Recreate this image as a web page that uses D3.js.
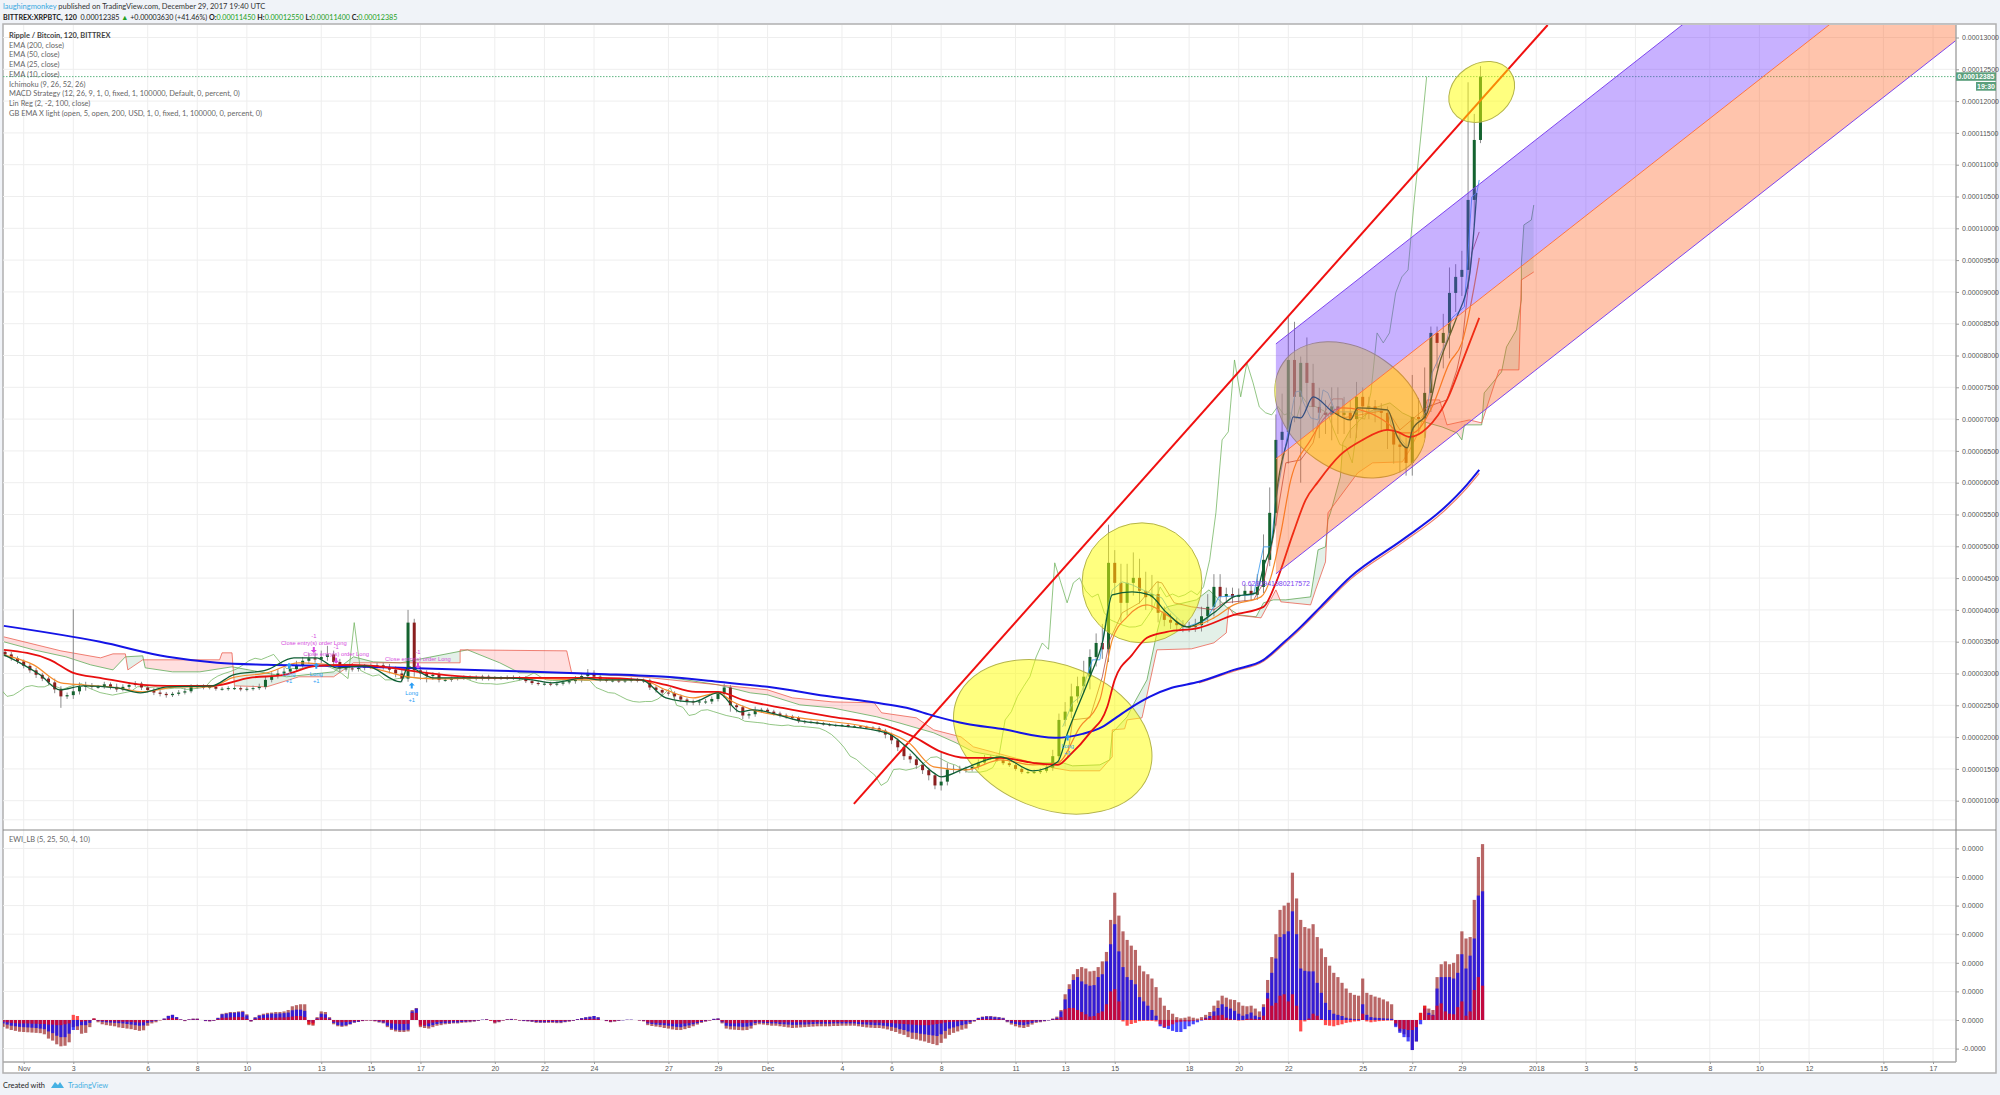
<!DOCTYPE html>
<html><head><meta charset="utf-8">
<script src="https://cdnjs.cloudflare.com/ajax/libs/d3/7.8.5/d3.min.js"></script>
<style>html,body{margin:0;padding:0;background:#f0f3f8}svg{display:block}text{font-family:"Liberation Sans",Arial,sans-serif}.ui{font-family:Lato,"Open Sans",sans-serif}</style>
</head><body><svg id="c" width="2000" height="1095"></svg>
<script>
// ---------- axis data ----------
const priceTicks=[1000,1500,2000,2500,3000,3500,4000,4500,5000,5500,6000,6500,7000,7500,8000,8500,9000,9500,10000,10500,11000,11500,12000,12500,13000];
const timeTickDays=[0,2,5,7,9,12,14,16,19,21,23,26,28,30,33,35,37,40,42,44,47,49,51,54,56,58,61,63,65,68,70,72,75,77];
const timeTickLabels=["Nov","3","6","8","10","13","15","17","20","22","24","27","29","Dec","4","6","8","11","13","15","18","20","22","25","27","29","2018","3","5","8","10","12","15","17"];
const ewiTicks=[-100,0,100,200,300,400,500,600,700];
const legendLabels=["EMA (200, close)","EMA (50, close)","EMA (25, close)","EMA (10, close)","Ichimoku (9, 26, 52, 26)","MACD Strategy (12, 26, 9, 1, 0, fixed, 1, 100000, Default, 0, percent, 0)","Lin Reg (2, -2, 100, close)","GB EMA X light (open, 5, open, 200, USD, 1, 0, fixed, 1, 100000, 0, percent, 0)"];
// ---------- candles: every 6 hours from day -0.75 (day 0 = Nov 1), prices in 1e-8 BTC ----------
const candleClose=[3300,3240,3190,
3120,3050,2980,2920,2860,2750,2640,2660,2720,2790,2810,2790,2790,2830,2790,2750,2790,2820,2840,2780,
2740,2700,2680,2660,2680,2700,2720,2790,2800,2780,2790,2760,2760,2770,2770,2750,2760,2770,2790,2900,
2960,3000,3030,3070,3130,3200,3240,3220,3260,3300,3180,3080,3080,3070,3090,3110,3120,3130,3100,3060,
3000,2920,3800,3050,3000,2960,2980,2900,2900,2920,2930,2940,2930,2920,2950,2920,2930,2930,2940,2930,
2920,2880,2850,2840,2840,2830,2840,2860,2880,2900,2960,3010,2950,2900,2890,2890,2880,2890,2900,2890,
2890,2780,2740,2700,2690,2640,2590,2560,2550,2560,2560,2600,2680,2780,2500,2470,2340,2360,2420,2430,
2400,2370,2340,2320,2300,2250,2240,2230,2220,2200,2190,2180,2190,2170,2170,2160,2150,2140,2100,2040,
1950,1840,1700,1650,1560,1480,1400,1240,1300,1490,1500,1480,1500,1530,1600,1680,1690,1640,1590,1560,
1500,1450,1450,1450,1470,1520,1700,2270,2400,2640,2800,2950,3260,3480,3380,4740,4425,4111,4425,4504,
4300,4200,4250,3954,3843,3800,3760,3730,3733,3760,3900,4048,4362,4205,4250,4205,4237,4300,4237,4362,
4787,5526,6673,6800,7930,7350,7884,7569,7192,7100,7066,7200,7066,7100,7000,7350,7200,7200,7150,7098,
6830,6600,6563,6311,7034,7000,7412,8355,8198,8355,8984,9236,9346,10446,11389,12385];
const candleWickUp=[30,40,30,
30,30,40,30,30,60,50,40,1290,70,60,40,30,40,30,50,40,40,40,30,
30,30,40,30,30,40,50,40,30,30,30,40,30,30,30,30,30,40,50,60,
60,70,60,70,70,60,80,90,100,135,60,50,40,50,50,40,40,40,40,50,
50,60,200,60,60,50,40,40,30,30,30,30,30,40,30,30,30,30,30,30,
30,40,30,30,30,30,30,30,40,60,50,60,40,30,30,30,30,30,40,30,
30,30,30,30,30,30,30,30,30,30,40,40,40,60,40,30,30,30,60,30,
30,30,30,30,30,30,20,20,20,20,20,20,20,20,20,20,20,20,30,30,
30,30,40,40,40,40,40,30,450,100,60,50,40,50,50,40,30,30,30,30,
30,30,30,40,40,60,100,100,150,200,150,250,120,150,300,600,200,300,300,400,
300,300,300,200,100,100,80,80,80,100,150,200,200,200,100,100,100,100,100,200,
400,400,400,600,680,600,100,400,300,300,200,300,300,250,200,235,150,150,100,100,
100,100,200,150,660,300,400,100,100,300,400,200,300,1850,410,165];
const candleWickDn=[40,40,40,
40,40,50,40,40,60,180,40,60,50,60,40,30,30,40,40,30,40,30,40,
40,40,40,40,30,30,30,30,30,30,30,30,30,30,30,30,30,30,30,40,
40,40,40,40,40,40,50,50,60,60,80,60,50,40,40,40,40,40,40,60,
60,60,50,100,100,100,60,40,30,30,30,30,30,30,30,30,30,30,30,30,
30,30,30,30,30,30,30,30,30,40,40,50,50,30,30,30,30,30,30,30,
40,40,40,40,40,40,40,60,50,50,40,40,40,60,100,80,60,50,40,40,
30,30,30,30,30,30,30,20,20,20,20,20,20,20,20,20,20,20,30,60,
60,60,60,60,60,60,80,60,80,60,60,50,40,40,40,40,40,30,30,30,
30,30,30,30,30,30,50,50,100,100,100,100,200,150,150,200,200,300,200,200,
200,200,200,150,100,100,100,80,80,80,100,100,150,150,100,100,100,100,100,80,
100,100,200,300,500,400,1350,400,400,400,300,400,300,300,300,300,200,200,200,300,
300,300,400,200,200,200,300,300,400,400,400,300,300,300,400,50];
// ---------- moving averages ----------
const ema200Days=[-.8,3.08,5.8,7.8,9.8,12.5,15.2,19.2,23.2,25.9,28,30,32.6,34.4,35.6,36.7,38,39.4,41.6,42.7,43.5,44.1,44.7,45.4,46.3,47.4,48.8,50,50.8,51.5,52.3,53.5,55.6,57.2,58.2,58.7];
const ema200Vals=[3749,3498,3262,3168,3136,3120,3089,3042,2994,2947,2869,2790,2633,2539,2460,2334,2209,2130,1989,2051,2161,2319,2476,2633,2775,2869,3057,3214,3482,3733,4048,4519,5101,5573,5966,6201];
const gbEmaDays=[47.4,48.8,50,50.8,51.5,52.3,53.5,55.6,57.2,58.2,58.7];
const gbEmaVals=[2852,3038,3192,3455,3704,4015,4480,5058,5525,5915,6145];
const ema50Days=[-.8,1.06,2,3.08,4.8,5.8,7.6,9.1,10.5,11.8,13.2,14.5,15.9,17.9,19.2,23.2,24.9,25.9,27.1,28,29,30.6,32.6,34.8,35.9,37,38,39.4,40.7,41.7,42.2,43,43.7,44,44.7,45.3,46.1,47.4,48.8,50,50.5,51.2,51.7,52.2,53.1,54,55,55.4,55.9,56.6,57.4,58,58.7];
const ema50Vals=[3372,3215,3010,2932,2822,2806,2806,2932,2979,3120,3136,3105,3026,2947,2932,2932,2900,2822,2712,2712,2586,2460,2319,2177,2004,1768,1674,1674,1596,1564,1721,2067,2476,2900,3293,3561,3655,3718,3922,4048,4425,5211,5730,6013,6437,6673,6830,6799,6720,6862,7302,7884,8591];
const ema25Days=[-.8,.4,1.5,2.4,3.8,4.8,6.2,7.6,8.4,9.8,11.1,12.5,13.8,15.5,16.5,19.2,23.2,24.9,25.9,27,28,28.6,29.4,31.3,34,34.8,35.7,36.7,38,39.4,40.7,41.7,42.6,43.4,43.9,44.5,45.3,46.1,47,48,48.8,49.9,50.3,50.7,51.1,51.9,52.5,53.2,53.9,55,55.5,56,56.8,57.5,58,58.7];
const ema25Vals=[3293,3136,2853,2822,2775,2712,2790,2790,2932,3010,3168,3136,3105,2947,2916,2932,2900,2900,2743,2617,2696,2555,2429,2303,2162,2083,1910,1533,1485,1643,1564,1596,2162,2586,3529,3891,4079,3922,3733,3875,4079,4205,4520,5211,6044,6673,7035,7176,7145,6940,6783,6783,7192,7884,8198,9534];
const ema10Days=[-.8,-.15,.66,1.46,2.4,3.76,4.7,5.8,7.6,8.45,9.8,10.9,11.8,12.6,13.8,15.2,15.5,16.5,19.2,20.5,21.3,22.6,23.2,24.9,25.9,27,28,28.9,29.4,31.3,32.6,34.8,35.6,36.7,37,38,39.4,40.7,41.7,42.1,43,43.5,43.9,44.7,45.4,46.1,46.9,48,48.8,49.7,50,50.4,50.5,51,51.2,51.5,52,52.8,53.5,53.8,55,55.4,55.8,56,56.6,57.1,57.6,57.8,58.3,58.6];
const ema10Vals=[3293,3168,2979,2743,2806,2775,2696,2790,2806,2979,3057,3246,3246,3089,3120,2869,3105,2932,2932,2900,2853,2932,2900,2900,2617,2555,2696,2397,2429,2256,2193,2067,1847,1438,1375,1517,1690,1470,1611,2067,2948,3482,4236,4284,4236,3954,3733,3954,4205,4268,4677,5211,5730,6720,7035,7019,7349,7113,6987,7176,7145,6720,6547,6830,7098,7884,8403,8607,9236,10556];
// ---------- ichimoku ----------
const tenkanDays=[41.9,42.3,42.6,43.1,43.4,43.7,43.9,44.3,44.7,45.3,45.9,46.2,46.9,47.7,48.2,49.6,50,50.3,50.5,51.2,51.3,51.5,51.6,51.9,52.2,52.4,52.6,52.9,53.9,55,55.2,55.8,56,56.6,56.8,57.4,57.6,58.1,58.4,58.6,58.7];
const tenkanVals=[2162,2539,2633,3215,3215,3999,4315,4441,4394,4284,4189,3999,3733,3843,4205,4237,4991,4991,5730,7255,7428,7443,7271,7019,6987,7459,7412,7113,7113,7145,6830,6563,6830,7145,7726,8245,8591,8764,10493,10556,10760];
const kijunDays=[42.1,42.3,43,43.5,43.8,44.3,45,45.7,45.9,46.4,47.1,48,48.4,49.6,50,50.3,50.5,50.9,51.5,52,52.2,52.8,53.2,53.2,55,55.5,56.6,57.4,57.8,58,58.4,58.7];
const kijunVals=[1690,2272,2303,2948,3529,3954,4111,4441,4425,4111,4048,4001,4111,4158,4425,4944,5369,6312,6359,6626,6940,7318,7318,7019,7145,6830,7192,7302,7774,8135,9613,9943];
const spanBDays=[-.8,1.5,3.1,3.6,4.1,4.2,4.8,7.9,8,8.4,8.5,9.8,11.1,12.5,13.3,17.6,17.6,21.9,22.1,24.9,28,30,31,32.6,34.3,34.6,36,36.7,37.8,38.3,39.2,40.7,41.5,42.2,43.4,43.9,43.9,44.4,44.5,45.1,45.7,47.1,48,48.5,48.6,48.8,49.9,50.5,50.7,51.9,52.1,52.5,52.6,53.8,54.4,55.6,55.9,56.3,56.6,57.1,57.4,58.3,58.8,59.5,60.3,60.4,60.9];
const spanBVals=[3576,3356,3246,3309,3309,3057,3215,3215,3325,3325,2806,2790,2948,2948,3168,3168,3372,3356,3010,2948,2822,2743,2617,2554,2539,2382,2303,2114,2004,1847,1753,1596,1517,1470,1470,1690,2114,2130,2271,2303,3372,3388,3482,3639,4048,3922,3875,4315,4127,4079,4315,4755,5526,6154,6312,6327,6516,6830,7302,7302,6909,6987,6940,7774,7774,9188,9314];
const spanADays=[-.8,.4,1.7,2.7,3.6,4.1,4.8,4.9,6,7.1,8.4,10.6,12.5,13.3,14.1,15.2,17.9,18.4,19.2,20,21.9,23.2,25.9,28,29.3,30,31.3,32.6,34.4,35.3,36.7,37.6,38.3,39.4,40.7,41.9,42.3,43.4,43.8,43.9,44.5,44.7,45.3,45.7,45.9,46.1,47.3,47.8,48.5,49,49.7,50,50.4,50.9,51.9,52.2,52.5,52.6,52.7,53.1,53.2,53.5,54,54.6,55.1,55.6,56.2,57.2,57.8,58,58.1,58.8,58.9,59.6,59.8,60.2,60.4,60.4,60.5,60.8,60.9];
const spanAVals=[3498,3372,3262,3136,3057,3262,3278,3089,3026,3026,3105,2948,3026,3262,3183,3168,3372,3293,3168,3010,3010,2979,2948,2822,2696,2665,2507,2460,2319,2224,2067,1910,1768,1690,1596,1596,1548,1564,1643,2067,2319,2476,2900,3639,3954,4048,4158,4315,4048,3922,3891,4111,4158,4158,4205,4944,4991,5416,5526,6091,6626,6830,7035,7192,7255,7098,6987,6877,6783,6673,6909,6909,7412,7742,8135,8403,8874,9456,10053,10131,10367];
const chikouShiftDays=2.17;
// ---------- linear regression channel and drawn annotations ----------
const channelDays=[50.5,78];
const channelUpper=[8182,16600];
const channelMiddle=[6374,14785];
const channelLower=[4567,12977];
const trendDays=[33.48,61.46];
const trendVals=[951,13197];
const ellipseDays=[41.5,45.1,53.5,58.8];
const ellipseVals=[2004,4425,7145,12144];
const lastPrice=12385;
const orderLabels=["Close entry(s) order Long","Close entry(s) order Long","Close entry(s) order Long"];
const closeDays=[11.7,12.6,15.9];
const closeVals=[3355,3185,3105];
const longDays=[10.7,11.8,15.65,42.1];
const longVals=[3170,3170,2860,2040];
// ---------- EWI oscillator: every 4 hours from day -0.83 ----------
const ewiTotal=[-24,-30,-35,-38,-41,
-42,-43,-44,-45,-46,-50,-65,-72,-85,-92,-90,-78,-25,-35,-48,-45,-25,6,-8,-15,-18,-20,-22,-26,-28,-30,-32,-35,-38,-36,
-20,-12,-8,-2,5,15,18,10,2,-4,2,5,5,0,-4,-5,-3,8,22,25,28,28,30,32,20,-6,10,18,22,25,26,28,28,30,35,48,
52,55,55,-18,-20,10,30,28,10,-15,-22,-24,-22,-16,-10,-7,-4,-2,-2,-5,-9,-12,-25,-35,-40,-42,-42,-40,35,42,
-25,-28,-30,-25,-20,-18,-15,-14,-12,-12,-10,-9,-8,-6,-3,1,3,-2,-12,-8,-2,3,4,2,-2,-4,-5,-7,-10,-10,-10,-10,-10,-11,-11,-8,
-6,-3,3,7,10,12,14,10,0,-4,-8,-6,-3,-1,1,1,0,-2,-5,-18,-21,-23,-25,-28,-30,-33,-35,-35,-32,-28,-22,-16,-10,-6,-2,4,
6,-12,-30,-33,-34,-35,-36,-35,-30,-18,-15,-16,-18,-20,-20,-22,-24,-26,-28,-27,-26,-25,-24,-23,-22,-22,-22,-22,-21,-21,-20,-20,-20,-20,-22,-24,
-26,-27,-28,-28,-30,-33,-38,-42,-48,-52,-60,-66,-68,-72,-75,-80,-84,-88,-80,-65,-52,-45,-40,-34,-30,-14,-6,8,12,14,14,12,10,8,-8,-16,-22,-26,-28,-24,-16,-10,
-8,-5,-2,5,12,35,90,125,160,178,185,180,170,172,185,205,238,350,445,365,310,280,260,245,190,170,160,145,115,78,50,35,22,10,6,8,12,8,5,10,18,28,
50,68,85,78,72,70,62,50,48,50,40,30,55,140,220,300,385,400,410,515,425,350,325,320,335,290,250,220,190,165,150,130,110,95,88,85,145,95,88,82,78,72,
65,55,-20,-40,-50,-60,-105,-75,25,50,40,35,150,195,205,195,200,230,310,285,290,420,570,615];
const ewiBlue=[-12,-16,-20,-22,-24,
-25,-26,-27,-28,-30,-32,-40,-46,-55,-60,-60,-48,-35,-22,-18,-18,-10,4,-3,-6,-8,-9,-10,-11,-12,-14,-16,-18,-20,-19,
-10,-6,-3,0,5,14,18,10,2,-2,2,4,4,0,-3,-4,-2,7,20,22,25,25,27,28,16,-4,8,15,18,20,22,22,23,24,26,34,
36,36,32,-6,-10,6,22,20,6,-10,-18,-20,-18,-14,-8,-6,-3,-1,-1,-3,-6,-9,-20,-30,-34,-36,-36,-34,30,40,
-16,-20,-22,-18,-14,-12,-11,-10,-9,-9,-7,-6,-5,-4,-2,1,2,-1,-8,-5,-1,2,3,1,-1,-3,-4,-5,-7,-8,-8,-7,-7,-8,-8,-6,
-4,-2,3,6,9,11,14,9,0,-3,-6,-4,-2,-1,1,1,0,-1,-3,-12,-14,-16,-17,-18,-20,-22,-24,-25,-22,-19,-15,-11,-7,-4,-1,4,
5,-8,-20,-22,-22,-23,-24,-23,-20,-11,-9,-10,-11,-12,-12,-14,-15,-16,-17,-17,-16,-16,-15,-14,-13,-13,-13,-13,-12,-12,-12,-12,-12,-12,-14,-15,
-16,-17,-18,-18,-20,-22,-24,-27,-32,-35,-40,-44,-45,-48,-50,-52,-54,-56,-50,-38,-30,-26,-22,-18,-15,-8,-3,7,10,12,12,10,9,6,-5,-10,-14,-17,-18,-15,-10,-6,
-5,-3,-1,4,8,30,72,108,140,150,135,125,120,122,150,160,205,265,335,240,185,150,140,125,80,65,50,35,15,-22,-28,-32,-38,-42,-42,-32,-22,-15,-8,-2,8,14,
30,42,55,46,40,32,22,15,20,26,15,10,45,95,165,215,290,300,310,380,300,180,172,170,170,130,95,60,35,22,18,14,8,5,3,3,55,18,10,8,7,6,
5,4,-25,-45,-60,-75,-105,-75,-15,40,25,18,110,150,150,150,145,165,230,180,225,285,435,450];
const ewiRed=[-6,-8,-10,-11,-12,
-12,-12,-13,-13,-14,-14,-16,-16,-18,-18,-15,-12,18,14,-6,-4,-2,5,-2,-3,-4,-4,-5,-5,-6,-6,-7,-8,-9,-8,
-4,-3,-1,0,2,5,7,4,1,-1,1,2,2,0,-1,-2,-1,3,8,8,9,10,10,10,4,-2,3,6,7,8,8,8,9,9,10,12,
14,14,10,-14,-16,4,10,8,3,-6,-8,-8,-7,-6,-4,-3,-2,-1,-1,-2,-3,-5,-9,-12,-13,-14,-14,-13,25,25,
-20,-18,-12,-9,-7,-6,-5,-5,-4,-4,-3,-3,-3,-2,-1,0,1,-3,-8,-4,-1,1,1,1,-1,-1,-2,-2,-4,-4,-4,-4,-4,-4,-4,-3,
-2,-1,1,2,3,4,4,3,0,-2,-5,-3,-1,0,0,0,0,-1,-2,-8,-9,-10,-10,-11,-12,-13,-13,-13,-12,-11,-9,-7,-4,-2,-1,1,
2,-5,-10,-12,-12,-11,-11,-10,-8,-6,-6,-6,-7,-7,-7,-8,-8,-8,-8,-8,-8,-8,-8,-7,-7,-7,-7,-7,-7,-7,-7,-7,-7,-7,-7,-8,
-8,-8,-9,-9,-10,-10,-11,-12,-13,-14,-15,-16,-17,-18,-18,-18,-16,-14,-12,-9,-7,-6,-5,-4,-3,-2,-1,3,4,4,4,3,3,2,-2,-4,-6,-7,-8,-6,-4,-2,
-2,-1,0,2,4,10,38,42,42,35,28,20,12,14,24,30,55,100,108,65,-5,-20,-14,-10,-4,-3,-3,-3,-5,-15,-25,-20,-15,-8,-6,-5,-5,-3,-1,2,5,6,
15,16,18,8,4,1,-2,-1,4,5,3,3,15,75,50,60,85,90,65,90,50,-40,-5,5,22,15,3,-18,-20,-22,-18,-15,-10,-8,-5,-4,22,-5,-8,-6,-4,-3,
-2,-2,-12,-30,-32,-35,-35,-25,25,50,18,16,50,58,30,22,20,45,65,15,30,105,150,120];

// ---------- layout ----------
const L=3,R=1956,T=25,B=830,AX=1062,OUT=1996,BOT=1073;
const svg=d3.select("#c");
const x=d3.scaleLinear().domain([0,77]).range([23.7,1933]);
const y=d3.scaleLinear().domain([1000,13000]).range([800.7,37.5]);
const ey=d3.scaleLinear().domain([0,100]).range([1020,991.4]);
const defs=svg.append("defs");
defs.append("clipPath").attr("id","pane").append("rect").attr("x",L).attr("y",T).attr("width",R-L).attr("height",B-T);
defs.append("clipPath").attr("id","pane2").append("rect").attr("x",L).attr("y",B).attr("width",R-L).attr("height",AX-B);
svg.append("rect").attr("x",L).attr("y",T-1).attr("width",OUT-L).attr("height",BOT-T+1).attr("fill","#fff").attr("stroke","#b0b0b0").attr("stroke-width",1.5);

// grid
const grid=svg.append("g").attr("stroke","#eeeeee").attr("stroke-width",1);
grid.selectAll(".v").data(timeTickDays).join("line").attr("x1",d=>x(d)).attr("x2",d=>x(d)).attr("y1",T).attr("y2",AX);
grid.selectAll(".h").data(priceTicks).join("line").attr("x1",L).attr("x2",R).attr("y1",d=>y(d)).attr("y2",d=>y(d));
grid.selectAll(".e").data(ewiTicks).join("line").attr("x1",L).attr("x2",R).attr("y1",d=>ey(d)).attr("y2",d=>ey(d));

const pane=svg.append("g").attr("clip-path","url(#pane)");
const lineOf=(days,vals,curve)=>d3.line().x(i=>x(days[i])).y(i=>y(vals[i])).curve(curve||d3.curveLinear)(d3.range(days.length));

// ichimoku cloud
const loop=lineOf(spanADays,spanAVals)+"L"+spanBDays.map((d,i)=>[x(d),y(spanBVals[i])]).reverse().map(p=>p.join(",")).join("L")+"Z";
const aPts=spanADays.map((d,i)=>[x(d),y(spanAVals[i])]);
const aEnds=[aPts[0][0],aPts[aPts.length-1][0]];
defs.append("clipPath").attr("id","aboveA").append("path").attr("d","M"+aPts.map(p=>p.join(",")).join("L")+`L${aEnds[1]},0L${aEnds[0]},0Z`);
defs.append("clipPath").attr("id","belowA").append("path").attr("d","M"+aPts.map(p=>p.join(",")).join("L")+`L${aEnds[1]},${B}L${aEnds[0]},${B}Z`);
pane.append("g").attr("clip-path","url(#aboveA)").append("path").attr("d",loop).attr("fill","#f44").attr("fill-opacity",.17).attr("fill-rule","evenodd");
pane.append("g").attr("clip-path","url(#belowA)").append("path").attr("d",loop).attr("fill","#2a8a50").attr("fill-opacity",.13).attr("fill-rule","evenodd");
pane.append("path").attr("d",lineOf(spanADays,spanAVals)).attr("fill","none").attr("stroke","#5aa650").attr("stroke-opacity",.75).attr("stroke-width",1);
pane.append("path").attr("d",lineOf(spanBDays,spanBVals)).attr("fill","none").attr("stroke","#e8503e").attr("stroke-opacity",.7).attr("stroke-width",1);

// chikou: closes drawn back by the Ichimoku displacement
const candleDay=i=>-0.75+i*0.25;
pane.append("path").attr("fill","none").attr("stroke","#6fb35c").attr("stroke-opacity",.75).attr("stroke-width",1)
  .attr("d",d3.line().x((c,i)=>x(candleDay(i)-chikouShiftDays)).y(c=>y(c))(candleClose));

// candles
const cg=pane.append("g");
candleClose.forEach((c,i)=>{
  const o=i?candleClose[i-1]:c+40, top=Math.max(o,c), bot=Math.min(o,c), cx=x(candleDay(i));
  cg.append("line").attr("x1",cx).attr("x2",cx).attr("y1",y(top+candleWickUp[i])).attr("y2",y(bot-candleWickDn[i])).attr("stroke","#8c8c8c").attr("stroke-width",1);
  cg.append("rect").attr("x",cx-1.5).attr("width",3).attr("y",y(top)).attr("height",Math.max(1,y(bot)-y(top))).attr("fill",c>=o?"#14632f":"#8a1f1f");
});

// thin ichimoku lines
pane.append("path").attr("d",lineOf(kijunDays,kijunVals)).attr("fill","none").attr("stroke","#b04a4a").attr("stroke-opacity",.8).attr("stroke-width",1);
pane.append("path").attr("d",lineOf(tenkanDays,tenkanVals)).attr("fill","none").attr("stroke","#3f9df0").attr("stroke-opacity",.85).attr("stroke-width",1);

// last price line
pane.append("line").attr("x1",L).attr("x2",R).attr("y1",y(lastPrice)).attr("y2",y(lastPrice)).attr("stroke","#5fb583").attr("stroke-width",1).attr("stroke-dasharray","1.5 1.5");

// trend line (below the drawn ellipses)
pane.append("path").attr("d",lineOf(trendDays,trendVals)).attr("stroke","#f01010").attr("stroke-width",2).attr("fill","none");

// hand-drawn ellipses
const ellipseShape=[[103,72,22],[60,60,0],[82,60,35],[35,28,-35]];
ellipseDays.forEach((d,i)=>{
  const [rx,ry,rot]=ellipseShape[i];
  pane.append("ellipse").attr("cx",0).attr("cy",0).attr("rx",rx).attr("ry",ry)
    .attr("transform",`translate(${x(d)},${y(ellipseVals[i])}) rotate(${rot})`)
    .attr("fill","rgba(255,255,0,.5)").attr("stroke","#b5b54a").attr("stroke-width",1);
});

// EMAs (above the ellipses)
const smooth=d3.curveMonotoneX;
pane.append("path").attr("d",lineOf(ema25Days,ema25Vals,smooth)).attr("fill","none").attr("stroke","#f58a2a").attr("stroke-width",1.2);
pane.append("path").attr("d",lineOf(gbEmaDays,gbEmaVals,smooth)).attr("fill","none").attr("stroke","#f07a6a").attr("stroke-width",1.2);
pane.append("path").attr("d",lineOf(ema200Days,ema200Vals,smooth)).attr("fill","none").attr("stroke","#1414e6").attr("stroke-width",2);
pane.append("path").attr("d",lineOf(ema50Days,ema50Vals,smooth)).attr("fill","none").attr("stroke","#e80f0f").attr("stroke-width",1.8);
pane.append("path").attr("d",lineOf(ema10Days,ema10Vals,smooth)).attr("fill","none").attr("stroke","#0f5f35").attr("stroke-width",1.3);

// regression channel on top of everything it crosses
const band=(a,b,fill)=>pane.append("path").attr("fill",fill).attr("d",
  `M${x(channelDays[0])},${y(a[0])}L${x(channelDays[1])},${y(a[1])}L${x(channelDays[1])},${y(b[1])}L${x(channelDays[0])},${y(b[0])}Z`);
band(channelUpper,channelMiddle,"rgba(110,50,255,.38)");
band(channelMiddle,channelLower,"rgba(255,95,30,.37)");
[[channelUpper,"#7d45ee"],[channelMiddle,"#ff7640"],[channelLower,"#7d45ee"]].forEach(([a,c])=>
  pane.append("path").attr("d",lineOf(channelDays,a)).attr("stroke",c).attr("stroke-width",1).attr("fill","none"));

// strategy marks
const mark=pane.append("g").style("font-size","5.8px").attr("text-anchor","middle");
closeDays.forEach((d,i)=>{
  const cx=x(d),cy=y(closeVals[i]);
  mark.append("text").attr("x",cx).attr("y",cy-13).attr("fill","#d64be0").text("-1");
  mark.append("text").attr("x",cx).attr("y",cy-6).attr("fill","#d64be0").text(orderLabels[i]);
  mark.append("path").attr("d",`M${cx-1},${cy-4}h2v3h2l-3,3l-3,-3h2z`).attr("fill","#d64be0");
});
longDays.forEach((d,i)=>{
  const cx=x(d),cy=y(longVals[i]);
  mark.append("path").attr("d",`M${cx-1},${cy+6}h2v-3h2l-3,-3l-3,3h2z`).attr("fill","#2a9df4");
  mark.append("text").attr("x",cx).attr("y",cy+13).attr("fill","#2a9df4").text("Long");
  mark.append("text").attr("x",cx).attr("y",cy+20).attr("fill","#2a9df4").text("+1");
});
pane.append("text").attr("x",x(channelDays[0])).attr("y",y(channelLower[0])+12).attr("text-anchor","middle").attr("fill","#7a3ff0").style("font-size","7px").text("0.6280941980217572");

// EWI bars
const ewiPane=svg.append("g").attr("clip-path","url(#pane2)");
const ewiDay=i=>-0.8333+i/6;
const bars=(arr,fill)=>ewiPane.append("g").selectAll("rect").data(arr).join("rect")
  .attr("x",(v,i)=>x(ewiDay(i))-1.6).attr("width",3.2)
  .attr("y",v=>Math.min(ey(v),ey(0))).attr("height",v=>Math.abs(ey(v)-ey(0))).attr("fill",fill);
bars(ewiTotal,"rgba(139,0,0,.6)");
bars(ewiBlue,"rgba(0,0,255,.72)");
bars(ewiRed,"rgba(255,0,0,.7)");

// axes
const axStyle=g=>{g.selectAll("text").attr("fill","#555").style("font-size","7px");g.selectAll(".tick line").attr("stroke","#999");g.select(".domain").attr("stroke","#a8a8a8").attr("stroke-width",1.5);};
svg.append("g").attr("transform",`translate(${R},0)`).call(d3.axisRight(y).tickValues(priceTicks).tickSize(3).tickFormat(v=>(v*1e-8).toFixed(8))).call(axStyle).select(".domain").attr("d",`M0,${T}V${B}`);
svg.append("g").attr("transform",`translate(${R},0)`).call(d3.axisRight(ey).tickValues(ewiTicks.filter(v=>v<700)).tickSize(3).tickFormat(v=>(v*1e-8).toFixed(4))).call(axStyle).select(".domain").attr("d",`M0,${B}V${AX}`);
svg.append("g").attr("transform",`translate(0,${AX})`).call(d3.axisBottom(x).tickValues(timeTickDays).tickSize(2).tickPadding(2).tickFormat((d,i)=>timeTickLabels[i])).call(axStyle).select(".domain").attr("d",`M${L},0H${R}`);
svg.append("line").attr("x1",L).attr("x2",OUT).attr("y1",B).attr("y2",B).attr("stroke","#888").attr("stroke-width",1);

// price tags
svg.append("rect").attr("x",R).attr("y",y(lastPrice)-4.3).attr("width",OUT-R).attr("height",8.5).attr("fill","#5b9f7c");
svg.append("text").attr("x",(R+OUT)/2).attr("y",y(lastPrice)+2.5).attr("text-anchor","middle").attr("fill","#fff").style("font-size","7px").style("font-weight","bold").text((lastPrice*1e-8).toFixed(8));
svg.append("rect").attr("x",1976).attr("y",82).attr("width",20).attr("height",8.7).attr("fill","#5b9f7c");
svg.append("text").attr("x",1986).attr("y",88.8).attr("text-anchor","middle").attr("fill","#fff").style("font-size","7px").style("font-weight","bold").text("19:30");

// header
const ui=svg.append("g").attr("class","ui").style("font-size","7.45px");
const h1=ui.append("text").attr("x",3).attr("y",9).attr("class","ui").attr("fill","#333").style("font-size","7.5px");
h1.append("tspan").attr("fill","#3aa9e0").text("laughingmonkey");
h1.append("tspan").text(" published on TradingView.com, December 29, 2017 19:40 UTC");
const h2=ui.append("text").attr("x",3).attr("y",19.5).attr("class","ui").attr("fill","#222").style("font-size","7.15px");
[["BITTREX:XRPBTC, 120","#222",1],["  0.00012385 ","#222",0],["▲","#22a022",0],[" +0.00003630 (+41.46%) ","#222",0],["O:","#222",1],["0.00011450 ","#22a022",0],["H:","#222",1],["0.00012550 ","#22a022",0],["L:","#222",1],["0.00011400 ","#22a022",0],["C:","#222",1],["0.00012385","#22a022",0]]
 .forEach(([t,c,b])=>h2.append("tspan").attr("fill",c).attr("font-weight",b?"bold":"normal").attr("xml:space","preserve").text(t));
ui.append("text").attr("class","ui").attr("x",9).attr("y",38).attr("fill","#444").attr("font-weight","bold").text("Ripple / Bitcoin, 120, BITTREX");
legendLabels.forEach((t,i)=>ui.append("text").attr("class","ui").attr("x",9).attr("y",47.6+i*9.77).attr("fill","#666").text(t));
ui.append("text").attr("class","ui").attr("x",9).attr("y",842).attr("fill","#666").text("EWI_LB (5, 25, 50, 4, 10)");
ui.append("text").attr("class","ui").attr("x",3).attr("y",1088).attr("fill","#222").text("Created with");
svg.append("path").attr("d","M51,1088l4,-6l3,3l2,-3l4,6z").attr("fill","#46b1e3");
ui.append("text").attr("class","ui").attr("x",68).attr("y",1088).attr("fill","#46b1e3").text("TradingView");
</script></body></html>
